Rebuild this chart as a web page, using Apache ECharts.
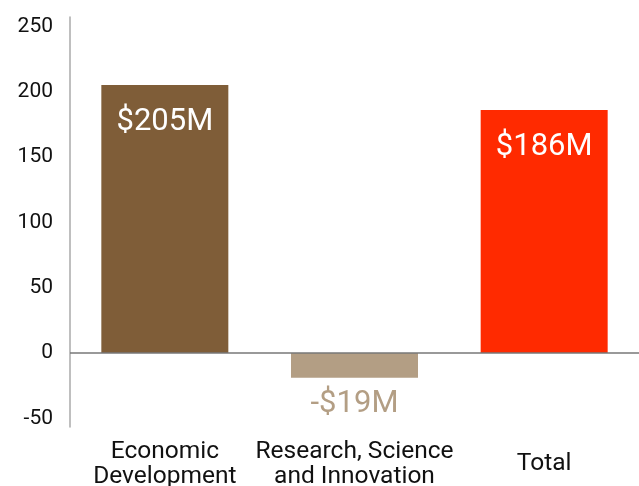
<!DOCTYPE html>
<html>
<head>
<meta charset="utf-8">
<script src="https://cdn.jsdelivr.net/npm/echarts@6/dist/echarts.min.js"></script>
<style>
  html, body { margin: 0; padding: 0; background: #fff; }
  #chart { width: 639px; height: 486px; }
</style>
</head>
<body>
<div id="chart"></div>
<script>
// Budget change by area, in millions of dollars
const categories = ['Economic\nDevelopment', 'Research, Science\nand Innovation', 'Total'];
const values = [205, -19, 186];
const valueLabels = ['$205M', '-$19M', '$186M'];
const barColors = ['#7F5D38', '#B39E84', '#FF2A00'];
const labelColors = ['#ffffff', '#B39E84', '#ffffff'];
const tickValues = [-50, 0, 50, 100, 150, 200, 250];

const chart = echarts.init(document.getElementById('chart'));
const font = 'Roboto, "Noto Sans", sans-serif';

chart.setOption({
  animation: false,
  grid: {
    left: 70, right: 0, top: 17, bottom: 59,
    containLabel: false,
    outerBoundsMode: 'none'
  },
  xAxis: {
    type: 'category',
    data: categories,
    axisLine: { show: false, onZero: false },
    axisTick: { show: false },
    axisLabel: {
      interval: 0,
      margin: 37,
      verticalAlign: 'middle',
      color: '#111',
      fontSize: 24.5,
      lineHeight: 25,
      fontFamily: font
    }
  },
  yAxis: {
    type: 'value',
    min: -56.6,
    max: 257.1,
    splitLine: { show: false },
    axisTick: { show: false },
    axisLine: { show: true, lineStyle: { color: '#aaaaaa', width: 1.5 } },
    axisLabel: {
      customValues: tickValues,
      margin: 17,
      color: '#111',
      fontSize: 21,
      fontFamily: font
    }
  },
  series: [{
    type: 'bar',
    barWidth: 127,
    data: values.map((v, i) => ({
      value: v,
      itemStyle: { color: barColors[i] },
      label: {
        show: true,
        position: v >= 0 ? 'insideTop' : 'bottom',
        distance: v >= 0 ? 22 : 11,
        formatter: valueLabels[i],
        color: labelColors[i],
        fontSize: 31,
        fontFamily: font
      }
    })),
    markLine: {
      silent: true,
      symbol: 'none',
      label: { show: false },
      lineStyle: { color: '#777777', width: 1.5, type: 'solid' },
      data: [{ yAxis: 0 }]
    }
  }]
});
</script>
</body>
</html>
